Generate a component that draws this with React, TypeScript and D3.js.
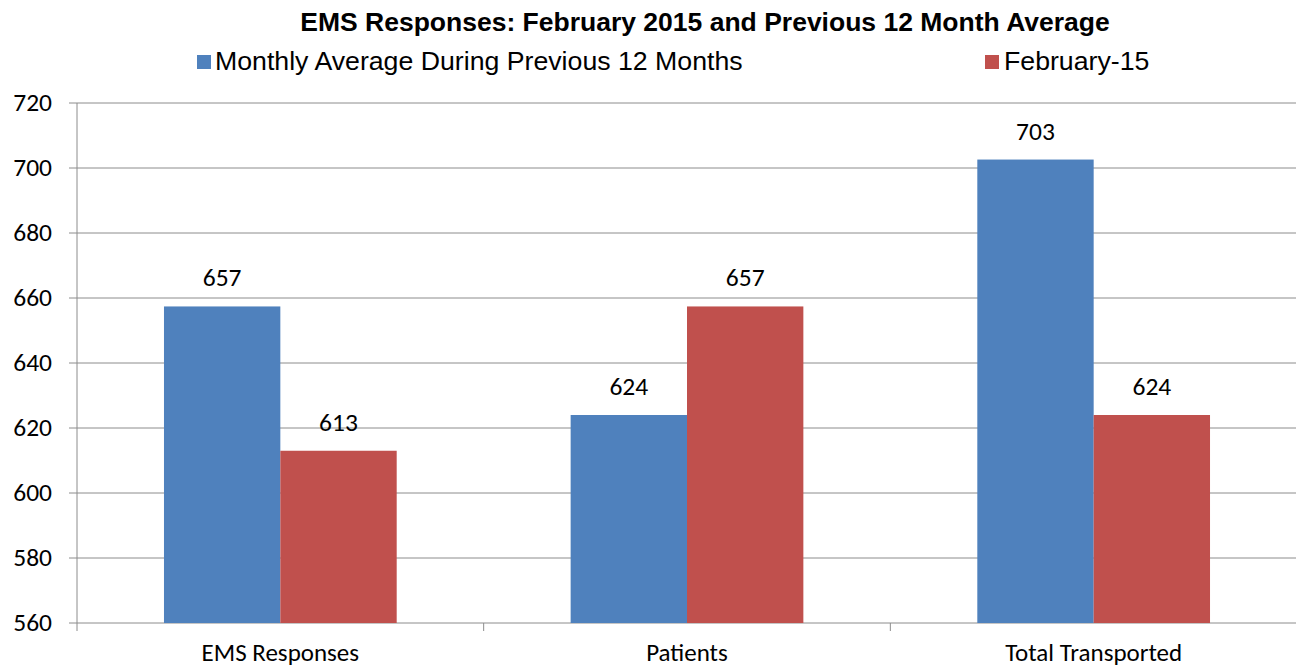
import React from "react";
import * as d3 from "d3";

const categories = ["EMS Responses", "Patients", "Total Transported"];
const seriesNames = ["Monthly Average During Previous 12 Months", "February-15"];
const avgValues = [657.4, 624, 702.6];
const febValues = [613, 657.4, 624];
const avgLabels = ["657", "624", "703"];
const febLabels = ["613", "657", "624"];
const yTicks = [560, 580, 600, 620, 640, 660, 680, 700, 720];
const colors = ["#4F81BD", "#C0504D"];

const W = 1296;
const H = 668;
const plot = { left: 77, right: 1297, top: 103, bottom: 623 };
const axisFont = "Carlito, Calibri, Lato, 'Open Sans', sans-serif";
const arial = "Arial, 'Liberation Sans', sans-serif";

export default function App() {
  const x = d3.scaleBand<string>().domain(categories).range([plot.left, plot.right]).padding(0);
  const inner = d3
    .scaleBand<number>()
    .domain([0, 1])
    .range([0, x.bandwidth()])
    .paddingInner(0)
    .paddingOuter(0.7475);
  const y = d3.scaleLinear().domain([560, 720]).range([plot.bottom, plot.top]);
  const series = [avgValues, febValues];
  const labels = [avgLabels, febLabels];

  return (
    <svg width={W} height={H} style={{ position: "absolute", left: 0, top: 0, background: "#fff" }}>
      <text x={705} y={31} textAnchor="middle" fontFamily={arial} fontWeight="bold" fontSize={26.5} fill="#000">
        EMS Responses: February 2015 and Previous 12 Month Average
      </text>
      {/* legend */}
      <rect x={197} y={55} width={14} height={14} fill={colors[0]} />
      <text x={215} y={70} fontFamily={arial} fontSize={26.7} fill="#000">{seriesNames[0]}</text>
      <rect x={985} y={55} width={14} height={14} fill={colors[1]} />
      <text x={1004} y={70} fontFamily={arial} fontSize={26.7} fill="#000">{seriesNames[1]}</text>

      {/* gridlines and y ticks */}
      {yTicks.map((t) => (
        <g key={t}>
          <line x1={plot.left - 8} x2={plot.right} y1={y(t)} y2={y(t)} stroke="#8c8c8c" strokeWidth={1} />
          <text x={52} y={y(t) + 8} textAnchor="end" fontFamily={axisFont} fontSize={25.5} fill="#000">{t}</text>
        </g>
      ))}
      <line x1={plot.left} x2={plot.left} y1={plot.top} y2={plot.bottom + 8} stroke="#8c8c8c" strokeWidth={1} />
      {categories.map((c, i) =>
        i > 0 ? (
          <line key={c} x1={x(c)!} x2={x(c)!} y1={plot.bottom} y2={plot.bottom + 8} stroke="#8c8c8c" strokeWidth={1} />
        ) : null
      )}

      {/* bars */}
      {categories.map((c, i) =>
        series.map((s, j) => (
          <g key={c + j}>
            <rect
              x={x(c)! + inner(j)!}
              y={y(s[i])}
              width={inner.bandwidth()}
              height={plot.bottom - y(s[i])}
              fill={colors[j]}
            />
            <text
              x={x(c)! + inner(j)! + inner.bandwidth() / 2}
              y={y(s[i]) - 20}
              textAnchor="middle"
              fontFamily={axisFont}
              fontSize={25.5}
              fill="#000"
            >
              {labels[j][i]}
            </text>
          </g>
        ))
      )}
      {categories.map((c) => (
        <text key={c} x={x(c)! + x.bandwidth() / 2} y={661} textAnchor="middle" fontFamily={axisFont} fontSize={25} fill="#000">
          {c}
        </text>
      ))}
    </svg>
  );
}
